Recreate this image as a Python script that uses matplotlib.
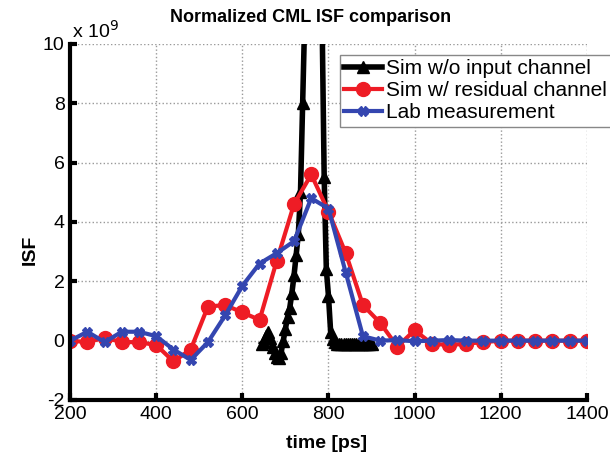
import numpy as np
import matplotlib
matplotlib.use('Agg')
import matplotlib.pyplot as plt

plt.rcParams['font.family'] = ['Liberation Sans', 'DejaVu Sans']
plt.rcParams['axes.unicode_minus'] = False

# ISF values in units of 1e9
t_sim = [200, 240, 280, 320, 360, 400, 440, 480, 520, 560, 600, 640, 680, 720, 760,
         800, 840, 880, 920, 960, 1000, 1040, 1080, 1120, 1160, 1200, 1240, 1280,
         1320, 1360, 1400]
isf_resid = [0.0, -0.05, 0.1, -0.05, -0.05, -0.15, -0.7, -0.3, 1.15, 1.2, 0.95, 0.7,
             2.7, 4.6, 5.6, 4.35, 2.95, 1.2, 0.6, -0.2, 0.35, -0.1, -0.15, -0.1,
             -0.05, 0.0, 0.0, 0.0, 0.0, 0.0, 0.0]
isf_lab = [0.0, 0.3, -0.05, 0.3, 0.3, 0.15, -0.3, -0.65, -0.05, 0.85, 1.85, 2.6,
           2.95, 3.35, 4.8, 4.45, 2.3, 0.15, 0.0, 0.02, -0.02, 0.0, 0.02, 0.0,
           0.0, 0.0, 0.0, 0.0, 0.0, 0.0, 0.0]

t_noch = [645, 650, 655, 660, 665, 670, 675, 680, 685, 690, 695, 700, 705, 710,
          715, 720, 725, 730, 735, 740, 745, 750, 755, 760, 765, 770, 775, 780,
          785, 790, 795, 800, 805, 810, 815, 820, 825, 830, 835, 840, 845, 850,
          855, 860, 865, 870, 875, 880, 885, 890, 895, 900]
isf_noch = [-0.1, -0.05, 0.15, 0.3, 0.1, -0.2, -0.4, -0.55, -0.6, -0.4, 0.0, 0.4,
            0.8, 1.1, 1.6, 2.2, 2.9, 3.6, 5.0, 8.0, 11.0, 15.0, 20.0, 24.0, 26.0,
            24.0, 20.0, 16.0, 11.0, 5.5, 2.4, 1.5, 0.3, 0.05, -0.05, -0.1, -0.1,
            -0.12, -0.12, -0.12, -0.12, -0.12, -0.12, -0.12, -0.12, -0.12, -0.12,
            -0.12, -0.12, -0.12, -0.12, -0.12]

labels = ['Sim w/o input channel', 'Sim w/ residual channel', 'Lab measurement']

fig = plt.figure(figsize=(6.1, 4.53), dpi=100)
ax = fig.add_axes([0.115, 0.117, 0.847, 0.786])

ax.plot(t_noch, isf_noch, color='black', lw=4, marker='^', ms=9, label=labels[0])
ax.plot(t_sim, isf_resid, color='#ee1c25', lw=3, marker='o', ms=10, label=labels[1])
ax.plot(t_sim, isf_lab, color='#3446b0', lw=3, marker='X', ms=7, label=labels[2])

ax.set_xlim(200, 1400)
ax.set_ylim(-2, 10)
ax.set_xticks(np.arange(200, 1401, 200))
ax.set_yticks(np.arange(-2, 11, 2))
ax.tick_params(direction='in', length=5, width=3, labelsize=14, pad=4)
ax.grid(True, linestyle=':', color='#999999', lw=1)
for s in ['top', 'right']:
    ax.spines[s].set_visible(False)
for s in ['left', 'bottom']:
    ax.spines[s].set_linewidth(3)

fig.text(72/610, 1-42/453, r'x 10$^9$', fontsize=14, va='bottom')
fig.text(311/610, 1-18/453, 'Normalized CML ISF comparison', fontsize=13,
         fontweight='bold', ha='center', va='center')
fig.text(30/610, 1-250/453, 'ISF', fontsize=14, fontweight='bold', rotation=90,
         ha='center', va='center')
fig.text(327/610, 1-443/453, 'time [ps]', fontsize=14, fontweight='bold',
         ha='center', va='center')

leg = ax.legend(loc='upper left', bbox_to_anchor=(340/610, 1-55/453),
                bbox_transform=fig.transFigure, borderaxespad=0, fontsize=15,
                handlelength=1.8, handletextpad=0.2, labelspacing=0.15,
                borderpad=0.2, fancybox=False, framealpha=1)
leg.get_frame().set_edgecolor('#888888')

fig.savefig('out.png', dpi=100)
